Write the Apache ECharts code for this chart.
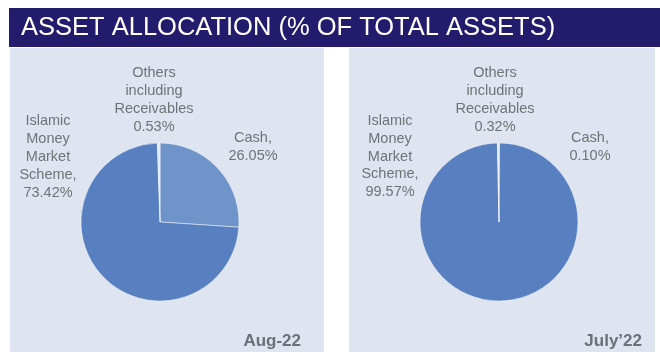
<!DOCTYPE html>
<html>
<head>
<meta charset="utf-8">
<script src="https://cdn.jsdelivr.net/npm/echarts@6/dist/echarts.min.js"></script>
<style>
  html, body { margin: 0; padding: 0; background: #ffffff; }
  #chart { width: 660px; height: 354px; }
</style>
</head>
<body>
<div id="chart"></div>
<script>
// Asset classes, in the order they are drawn clockwise from 12 o'clock
const categories = ['Cash', 'Islamic Money Market Scheme', 'Others including Receivables'];
// Wrapped label heads and the separator placed before the percentage
const labelHeads = ['Cash,', 'Islamic\nMoney\nMarket\nScheme,', 'Others\nincluding\nReceivables'];
// Allocation (% of total assets)
const aug22 = [26.05, 73.42, 0.53];
const july22 = [0.10, 99.57, 0.32];
const periods = ['Aug-22', 'July\u201922'];
const titleText = 'ASSET ALLOCATION (% OF TOTAL ASSETS)';

const sliceColors = ['#6e94ca', '#5880c1', '#dfe7f4'];
const textGrey = '#6f7378';

// Label anchor points (block centre) for each slice, per panel
const labelSpots = [
  [[253, 147], [48, 157], [154, 100]],
  [[590, 147], [390, 156.5], [495, 100]]
];

function buildData(values) {
  return categories.map((name, i) => ({
    name: name,
    value: values[i],
    itemStyle: { color: sliceColors[i] }
  }));
}

function pieSeries(values, center, panelIdx) {
  return {
    type: 'pie',
    center: center,
    radius: 79,
    startAngle: 90,
    clockwise: true,
    avoidLabelOverlap: false,
    silent: true,
    itemStyle: { borderColor: 'rgba(255,255,255,0.6)', borderWidth: 0.8 },
    label: {
      show: true,
      position: 'outside',
      color: textGrey,
      fontFamily: 'Liberation Sans, Arial, sans-serif',
      fontSize: 14.5,
      lineHeight: 17.8,
      align: 'center',
      formatter: p => labelHeads[p.dataIndex] + '\n' + p.value.toFixed(2) + '%'
    },
    labelLine: { show: false },
    labelLayout: p => ({
      x: labelSpots[panelIdx][p.dataIndex][0],
      y: labelSpots[panelIdx][p.dataIndex][1],
      align: 'center',
      verticalAlign: 'middle'
    }),
    data: buildData(values)
  };
}

const chart = echarts.init(document.getElementById('chart'), null, { renderer: 'canvas' });
chart.setOption({
  animation: false,
  backgroundColor: '#ffffff',
  graphic: [
    { type: 'rect', shape: { x: 9, y: 8, width: 651, height: 39 }, style: { fill: '#231b6c' }, z: 0 },
    { type: 'text', x: 21, y: 28, style: {
        text: titleText, fill: '#ffffff', fontSize: 25.5,
        fontFamily: 'Liberation Sans, Arial, sans-serif', verticalAlign: 'middle'
      }, z: 1 },
    { type: 'rect', shape: { x: 10, y: 48, width: 314, height: 304 }, style: { fill: '#dee5f0' }, z: 0 },
    { type: 'rect', shape: { x: 349, y: 48, width: 306, height: 304 }, style: { fill: '#dee5f0' }, z: 0 },
    { type: 'text', x: 301, y: 341, style: {
        text: periods[0], fill: '#6b7079', fontSize: 17, fontWeight: 'bold',
        fontFamily: 'Liberation Sans, Arial, sans-serif', align: 'right', verticalAlign: 'middle'
      }, z: 1 },
    { type: 'text', x: 642, y: 341, style: {
        text: periods[1], fill: '#6b7079', fontSize: 17, fontWeight: 'bold',
        fontFamily: 'Liberation Sans, Arial, sans-serif', align: 'right', verticalAlign: 'middle'
      }, z: 1 }
  ],
  series: [
    pieSeries(aug22, [160, 222], 0),
    pieSeries(july22, [499, 222], 1)
  ]
});
</script>
</body>
</html>
